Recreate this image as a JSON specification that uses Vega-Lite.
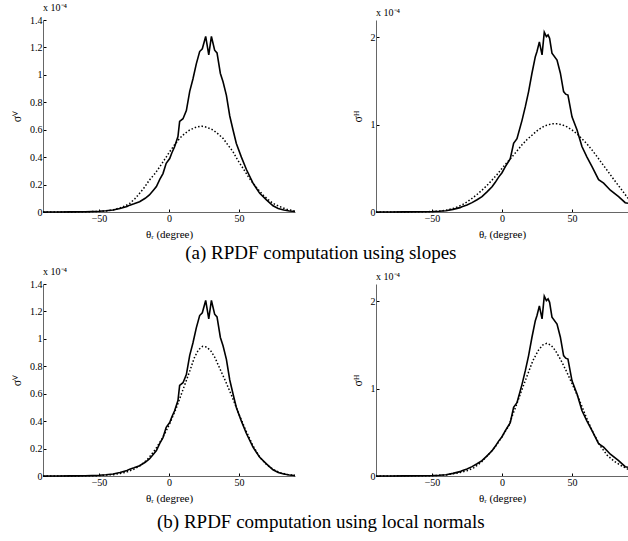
{
  "$schema": "https://vega.github.io/schema/vega-lite/v6.json",
  "padding": {"left": 10, "top": 3, "right": 0, "bottom": 0},
  "background": "white",
  "config": {
    "view": {"stroke": null},
    "font": "Liberation Serif",
    "axis": {"labelFont": "Liberation Serif", "titleFont": "Liberation Serif", "labelFontSize": 10, "titleFontSize": 11, "titleFontWeight": "normal", "labelColor": "#000", "titleColor": "#000", "domainColor": "#666", "tickColor": "#000", "tickSize": -3, "labelPadding": 4, "grid": false},
    "title": {"font": "Liberation Serif", "fontWeight": "normal", "color": "#000"},
    "concat": {"spacing": 4}
  },
  "datasets": {
    "solidV": [
      {"x": -90, "y": 0}, {"x": -80, "y": 0}, {"x": -70, "y": 0.001}, {"x": -60, "y": 0.002}, {"x": -50, "y": 0.005}, {"x": -45, "y": 0.009}, {"x": -40, "y": 0.015}, {"x": -35, "y": 0.025}, {"x": -30, "y": 0.04}, {"x": -28, "y": 0.05}, {"x": -25, "y": 0.06}, {"x": -21, "y": 0.075}, {"x": -17, "y": 0.1}, {"x": -14, "y": 0.124}, {"x": -11, "y": 0.16}, {"x": -9, "y": 0.185}, {"x": -6.5, "y": 0.24}, {"x": -4.3, "y": 0.28}, {"x": -2, "y": 0.355}, {"x": 0.5, "y": 0.39}, {"x": 2, "y": 0.43}, {"x": 4, "y": 0.476}, {"x": 6.4, "y": 0.55}, {"x": 7.6, "y": 0.66}, {"x": 10, "y": 0.68}, {"x": 12.4, "y": 0.74}, {"x": 14.8, "y": 0.88}, {"x": 17.1, "y": 0.97}, {"x": 19.5, "y": 1.08}, {"x": 21.9, "y": 1.17}, {"x": 23.8, "y": 1.19}, {"x": 26.2, "y": 1.28}, {"x": 28.4, "y": 1.145}, {"x": 30.3, "y": 1.28}, {"x": 32.6, "y": 1.18}, {"x": 34.3, "y": 1.16}, {"x": 36.7, "y": 1.01}, {"x": 38.6, "y": 0.95}, {"x": 41, "y": 0.85}, {"x": 43.4, "y": 0.7}, {"x": 45.7, "y": 0.6}, {"x": 48.1, "y": 0.5}, {"x": 51.7, "y": 0.4}, {"x": 55.3, "y": 0.31}, {"x": 60, "y": 0.21}, {"x": 64.8, "y": 0.136}, {"x": 69.6, "y": 0.088}, {"x": 74.3, "y": 0.045}, {"x": 78, "y": 0.025}, {"x": 82, "y": 0.014}, {"x": 86, "y": 0.007}, {"x": 90, "y": 0.004}
    ],
    "solidH": [
      {"x": -90, "y": 0}, {"x": -80, "y": 0}, {"x": -70, "y": 0.001}, {"x": -60, "y": 0.002}, {"x": -50, "y": 0.005}, {"x": -45, "y": 0.009}, {"x": -40, "y": 0.015}, {"x": -35, "y": 0.03}, {"x": -30, "y": 0.05}, {"x": -28.6, "y": 0.061}, {"x": -25, "y": 0.08}, {"x": -21.4, "y": 0.107}, {"x": -17.8, "y": 0.14}, {"x": -14.3, "y": 0.176}, {"x": -10.7, "y": 0.23}, {"x": -7.1, "y": 0.29}, {"x": -4.8, "y": 0.34}, {"x": -2.4, "y": 0.4}, {"x": 0, "y": 0.45}, {"x": 2.4, "y": 0.52}, {"x": 5.9, "y": 0.61}, {"x": 8.3, "y": 0.786}, {"x": 10.7, "y": 0.84}, {"x": 14.3, "y": 1.05}, {"x": 16.7, "y": 1.21}, {"x": 19, "y": 1.38}, {"x": 21.4, "y": 1.59}, {"x": 23.8, "y": 1.78}, {"x": 25, "y": 1.84}, {"x": 26.7, "y": 1.95}, {"x": 28.6, "y": 1.8}, {"x": 30.2, "y": 2.06}, {"x": 31.7, "y": 2.01}, {"x": 32.9, "y": 2.03}, {"x": 34, "y": 1.99}, {"x": 35.7, "y": 1.82}, {"x": 39.3, "y": 1.74}, {"x": 41.7, "y": 1.59}, {"x": 44, "y": 1.38}, {"x": 45.5, "y": 1.35}, {"x": 47.1, "y": 1.34}, {"x": 50, "y": 1.09}, {"x": 53.6, "y": 0.94}, {"x": 57.1, "y": 0.75}, {"x": 60.7, "y": 0.63}, {"x": 64.3, "y": 0.52}, {"x": 69, "y": 0.37}, {"x": 72.6, "y": 0.33}, {"x": 77.4, "y": 0.25}, {"x": 83.3, "y": 0.176}, {"x": 88, "y": 0.107}, {"x": 90, "y": 0.1}
    ],
    "dotV1": [
      {"x": -90, "y": 0}, {"x": -70, "y": 0.0005}, {"x": -60, "y": 0.0015}, {"x": -50, "y": 0.004}, {"x": -45, "y": 0.008}, {"x": -40, "y": 0.015}, {"x": -35, "y": 0.03}, {"x": -31, "y": 0.045}, {"x": -28, "y": 0.063}, {"x": -24.5, "y": 0.095}, {"x": -21, "y": 0.136}, {"x": -17.5, "y": 0.18}, {"x": -14, "y": 0.233}, {"x": -10, "y": 0.28}, {"x": -6.6, "y": 0.33}, {"x": -3, "y": 0.385}, {"x": 0.5, "y": 0.44}, {"x": 4, "y": 0.49}, {"x": 7.6, "y": 0.537}, {"x": 11, "y": 0.57}, {"x": 14.8, "y": 0.598}, {"x": 19, "y": 0.617}, {"x": 23, "y": 0.627}, {"x": 27, "y": 0.618}, {"x": 31.5, "y": 0.598}, {"x": 35, "y": 0.57}, {"x": 38.6, "y": 0.537}, {"x": 42, "y": 0.49}, {"x": 45.7, "y": 0.44}, {"x": 49, "y": 0.38}, {"x": 52.9, "y": 0.318}, {"x": 56.5, "y": 0.26}, {"x": 60, "y": 0.21}, {"x": 63.6, "y": 0.165}, {"x": 67.2, "y": 0.124}, {"x": 70.8, "y": 0.09}, {"x": 74.3, "y": 0.063}, {"x": 79, "y": 0.04}, {"x": 84, "y": 0.02}, {"x": 90, "y": 0.006}
    ],
    "dotH1": [
      {"x": -90, "y": 0}, {"x": -70, "y": 0.001}, {"x": -60, "y": 0.002}, {"x": -50, "y": 0.005}, {"x": -45, "y": 0.01}, {"x": -40, "y": 0.02}, {"x": -35, "y": 0.04}, {"x": -32, "y": 0.058}, {"x": -28.6, "y": 0.08}, {"x": -25, "y": 0.115}, {"x": -21.4, "y": 0.156}, {"x": -17.9, "y": 0.2}, {"x": -14.3, "y": 0.25}, {"x": -10.7, "y": 0.305}, {"x": -7.1, "y": 0.366}, {"x": -3.5, "y": 0.43}, {"x": 0, "y": 0.5}, {"x": 3.5, "y": 0.565}, {"x": 7.1, "y": 0.63}, {"x": 10.7, "y": 0.7}, {"x": 14.3, "y": 0.77}, {"x": 17.9, "y": 0.83}, {"x": 21.4, "y": 0.88}, {"x": 25, "y": 0.93}, {"x": 28.6, "y": 0.97}, {"x": 32, "y": 0.995}, {"x": 35.7, "y": 1.01}, {"x": 39.3, "y": 1.01}, {"x": 42.9, "y": 1.0}, {"x": 46.5, "y": 0.975}, {"x": 50, "y": 0.94}, {"x": 53.6, "y": 0.895}, {"x": 57.1, "y": 0.84}, {"x": 60.7, "y": 0.78}, {"x": 64.3, "y": 0.71}, {"x": 67.9, "y": 0.635}, {"x": 71.4, "y": 0.557}, {"x": 75, "y": 0.48}, {"x": 78.6, "y": 0.4}, {"x": 82.1, "y": 0.325}, {"x": 85.7, "y": 0.25}, {"x": 90, "y": 0.156}
    ],
    "dotV2": [
      {"x": -90, "y": 0}, {"x": -60, "y": 0.001}, {"x": -50, "y": 0.003}, {"x": -40, "y": 0.01}, {"x": -35, "y": 0.018}, {"x": -30, "y": 0.03}, {"x": -25, "y": 0.05}, {"x": -20, "y": 0.08}, {"x": -15, "y": 0.125}, {"x": -10, "y": 0.19}, {"x": -5, "y": 0.27}, {"x": 0, "y": 0.37}, {"x": 5, "y": 0.49}, {"x": 10, "y": 0.63}, {"x": 15, "y": 0.77}, {"x": 18, "y": 0.86}, {"x": 21, "y": 0.92}, {"x": 24, "y": 0.945}, {"x": 27, "y": 0.94}, {"x": 30, "y": 0.91}, {"x": 33, "y": 0.86}, {"x": 36, "y": 0.79}, {"x": 40, "y": 0.7}, {"x": 45, "y": 0.58}, {"x": 50, "y": 0.45}, {"x": 55, "y": 0.33}, {"x": 60, "y": 0.22}, {"x": 65, "y": 0.135}, {"x": 70, "y": 0.08}, {"x": 75, "y": 0.045}, {"x": 80, "y": 0.022}, {"x": 85, "y": 0.01}, {"x": 90, "y": 0.004}
    ],
    "dotH2": [
      {"x": -90, "y": 0}, {"x": -50, "y": 0.004}, {"x": -40, "y": 0.012}, {"x": -30, "y": 0.04}, {"x": -25, "y": 0.06}, {"x": -20, "y": 0.095}, {"x": -15, "y": 0.155}, {"x": -10, "y": 0.24}, {"x": -5, "y": 0.33}, {"x": 0, "y": 0.45}, {"x": 5, "y": 0.58}, {"x": 8, "y": 0.72}, {"x": 10, "y": 0.8}, {"x": 14, "y": 0.98}, {"x": 18, "y": 1.15}, {"x": 22, "y": 1.32}, {"x": 26, "y": 1.44}, {"x": 29, "y": 1.5}, {"x": 32, "y": 1.52}, {"x": 35, "y": 1.5}, {"x": 38, "y": 1.44}, {"x": 42, "y": 1.33}, {"x": 46, "y": 1.2}, {"x": 50, "y": 1.06}, {"x": 55, "y": 0.88}, {"x": 60, "y": 0.68}, {"x": 65, "y": 0.5}, {"x": 70, "y": 0.35}, {"x": 75, "y": 0.24}, {"x": 80, "y": 0.17}, {"x": 85, "y": 0.12}, {"x": 90, "y": 0.077}
    ]
  },
  "vconcat": [
    {
      "title": {"text": "(a) RPDF computation using slopes", "orient": "bottom", "anchor": "middle", "fontSize": 19, "offset": 5},
      "spacing": 52,
      "hconcat": [
        {
          "width": 252, "height": 192,
          "title": {"text": "x 10⁻⁴", "anchor": "start", "frame": "group", "fontSize": 10, "offset": 2},
          "encoding": {
            "x": {"field": "x", "type": "quantitative", "scale": {"domain": [-90, 90], "nice": false}, "axis": {"values": [-50, 0, 50], "title": "θᵣ (degree)", "titlePadding": 5}},
            "y": {"field": "y", "type": "quantitative", "scale": {"domain": [0, 1.4], "nice": false}, "axis": {"values": [0, 0.2, 0.4, 0.6, 0.8, 1, 1.2, 1.4], "format": "~g", "title": "σⱽ", "titlePadding": 6, "titleFontSize": 12}}
          },
          "layer": [
            {"data": {"name": "solidV"}, "mark": {"type": "line", "color": "#000", "strokeWidth": 1.6}},
            {"data": {"name": "dotV1"}, "mark": {"type": "line", "color": "#000", "strokeWidth": 1.5, "strokeDash": [1.5, 2]}}
          ]
        },
        {
          "width": 252, "height": 192,
          "title": {"text": "x 10⁻⁴", "anchor": "start", "frame": "group", "fontSize": 10, "offset": 2},
          "encoding": {
            "x": {"field": "x", "type": "quantitative", "scale": {"domain": [-90, 90], "nice": false}, "axis": {"values": [-50, 0, 50], "title": "θᵣ (degree)", "titlePadding": 5}},
            "y": {"field": "y", "type": "quantitative", "scale": {"domain": [0, 2.2], "nice": false}, "axis": {"values": [0, 1, 2], "format": "~g", "title": "σᴴ", "titlePadding": 6, "titleFontSize": 12}}
          },
          "layer": [
            {"data": {"name": "solidH"}, "mark": {"type": "line", "color": "#000", "strokeWidth": 1.6}},
            {"data": {"name": "dotH1"}, "mark": {"type": "line", "color": "#000", "strokeWidth": 1.5, "strokeDash": [1.5, 2]}}
          ]
        }
      ]
    },
    {
      "title": {"text": "(b) RPDF computation using local normals", "orient": "bottom", "anchor": "middle", "fontSize": 19, "offset": 10},
      "spacing": 52,
      "hconcat": [
        {
          "width": 252, "height": 192,
          "title": {"text": "x 10⁻⁴", "anchor": "start", "frame": "group", "fontSize": 10, "offset": 2},
          "encoding": {
            "x": {"field": "x", "type": "quantitative", "scale": {"domain": [-90, 90], "nice": false}, "axis": {"values": [-50, 0, 50], "title": "θᵣ (degree)", "titlePadding": 5}},
            "y": {"field": "y", "type": "quantitative", "scale": {"domain": [0, 1.4], "nice": false}, "axis": {"values": [0, 0.2, 0.4, 0.6, 0.8, 1, 1.2, 1.4], "format": "~g", "title": "σⱽ", "titlePadding": 6, "titleFontSize": 12}}
          },
          "layer": [
            {"data": {"name": "solidV"}, "mark": {"type": "line", "color": "#000", "strokeWidth": 1.6}},
            {"data": {"name": "dotV2"}, "mark": {"type": "line", "color": "#000", "strokeWidth": 1.5, "strokeDash": [1.5, 2]}}
          ]
        },
        {
          "width": 252, "height": 192,
          "title": {"text": "x 10⁻⁴", "anchor": "start", "frame": "group", "fontSize": 10, "offset": 2},
          "encoding": {
            "x": {"field": "x", "type": "quantitative", "scale": {"domain": [-90, 90], "nice": false}, "axis": {"values": [-50, 0, 50], "title": "θᵣ (degree)", "titlePadding": 5}},
            "y": {"field": "y", "type": "quantitative", "scale": {"domain": [0, 2.2], "nice": false}, "axis": {"values": [0, 1, 2], "format": "~g", "title": "σᴴ", "titlePadding": 6, "titleFontSize": 12}}
          },
          "layer": [
            {"data": {"name": "solidH"}, "mark": {"type": "line", "color": "#000", "strokeWidth": 1.6}},
            {"data": {"name": "dotH2"}, "mark": {"type": "line", "color": "#000", "strokeWidth": 1.5, "strokeDash": [1.5, 2]}}
          ]
        }
      ]
    }
  ]
}
